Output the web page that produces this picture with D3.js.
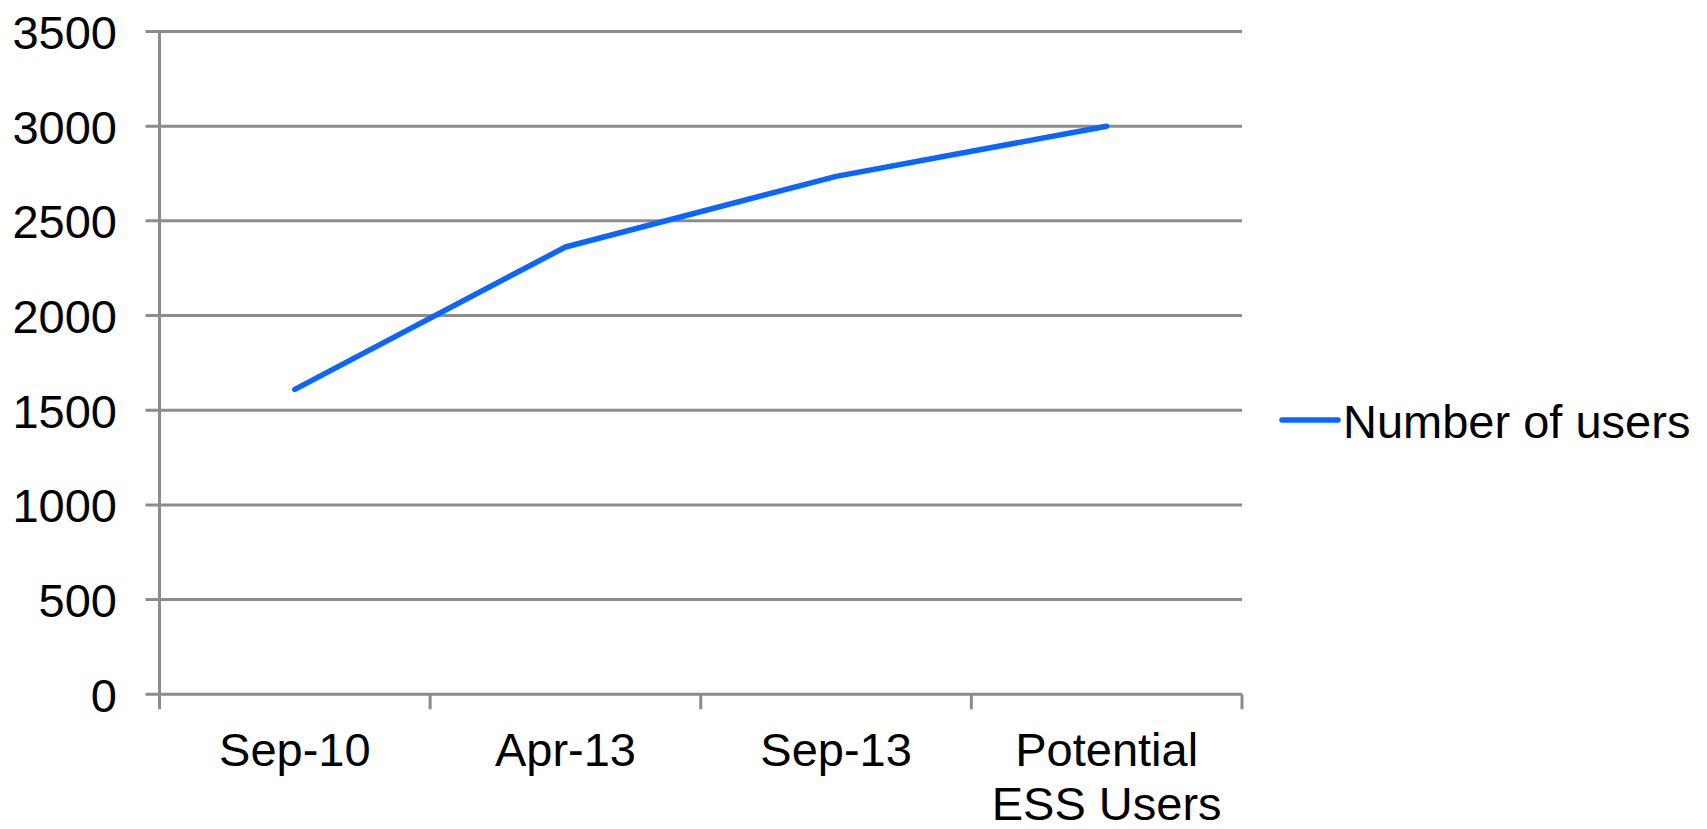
<!DOCTYPE html>
<html>
<head>
<meta charset="utf-8">
<script src="https://cdn.jsdelivr.net/npm/d3@7"></script>
<style>
  body { margin: 0; background: #fff; }
  svg { display: block; font-family: "Liberation Sans", Arial, sans-serif; }
</style>
</head>
<body>
<div id="chart"></div>
<script>
// data
var categories = ["Sep-10", "Apr-13", "Sep-13", "Potential ESS Users"];
var categoryLines = [["Sep-10"], ["Apr-13"], ["Sep-13"], ["Potential", "ESS Users"]];
var users = [1610, 2362, 2735, 3000];
var yTicks = [0, 500, 1000, 1500, 2000, 2500, 3000, 3500];
var seriesName = "Number of users";

var width = 1707, height = 829;
var plotLeft = 159.5, plotRight = 1242, plotTop = 31.5, plotBottom = 694.3;
var gridColor = "#8c8c8c", lineColor = "#0a66ff";

var svg = d3.select("#chart").append("svg")
	.attr("width", width)
	.attr("height", height);

var x = d3.scaleBand()
	.domain(categories)
	.range([plotLeft, plotRight]);

var y = d3.scaleLinear()
	.domain([0, 3500])
	.range([plotBottom, plotTop]);

// horizontal gridlines (with a short tick stub to the left)
svg.append("g").selectAll("line")
	.data(yTicks)
	.enter().append("line")
	.attr("x1", plotLeft - 14)
	.attr("x2", plotRight)
	.attr("y1", function(d){ return y(d); })
	.attr("y2", function(d){ return y(d); })
	.attr("stroke", gridColor)
	.attr("stroke-width", 3);

// y axis labels
var yAxis = d3.axisLeft(y).tickValues(yTicks).tickFormat(d3.format("d")).tickSize(0).tickPadding(0);
var gy = svg.append("g")
	.attr("transform", "translate(117,0)")
	.call(yAxis);
gy.select(".domain").remove();
gy.selectAll("text")
	.attr("font-size", 47)
	.attr("font-family", "Liberation Sans, Arial, sans-serif")
	.attr("fill", "#000")
	.attr("dy", "0.36em");

// vertical axis line
svg.append("line")
	.attr("x1", plotLeft).attr("x2", plotLeft)
	.attr("y1", plotTop).attr("y2", plotBottom + 15)
	.attr("stroke", gridColor)
	.attr("stroke-width", 3);

// x ticks at category boundaries
var boundaries = categories.map(function(c){ return x(c) + x.bandwidth(); });
svg.append("g").selectAll("line")
	.data(boundaries)
	.enter().append("line")
	.attr("x1", function(d){ return d; })
	.attr("x2", function(d){ return d; })
	.attr("y1", plotBottom)
	.attr("y2", plotBottom + 15)
	.attr("stroke", gridColor)
	.attr("stroke-width", 3);

// x labels
var xl = svg.append("g").selectAll("text")
	.data(categories)
	.enter().append("text")
	.attr("x", function(d){ return x(d) + x.bandwidth() / 2; })
	.attr("y", 766)
	.attr("text-anchor", "middle")
	.attr("font-size", 47)
	.attr("fill", "#000");
xl.each(function(d, i){
	var t = d3.select(this);
	categoryLines[i].forEach(function(s, k){
		t.append("tspan")
			.attr("x", x(d) + x.bandwidth() / 2)
			.attr("dy", k == 0 ? 0 : 54)
			.text(s);
	});
});

// the series line
var line = d3.line()
	.x(function(d, i){ return x(categories[i]) + x.bandwidth() / 2; })
	.y(function(d){ return y(d); });

svg.append("path")
	.attr("d", line(users))
	.attr("fill", "none")
	.attr("stroke", lineColor)
	.attr("stroke-width", 5.5)
	.attr("stroke-linecap", "round")
	.attr("stroke-linejoin", "round");

// legend
var lg = svg.append("g").attr("transform", "translate(1282,420)");
lg.append("line")
	.attr("x1", 0).attr("x2", 56)
	.attr("y1", 0).attr("y2", 0)
	.attr("stroke", lineColor)
	.attr("stroke-width", 5.5)
	.attr("stroke-linecap", "round");
lg.append("text")
	.attr("x", 61)
	.attr("y", 18)
	.attr("font-size", 47)
	.attr("fill", "#000")
	.text(seriesName);
</script>
</body>
</html>
